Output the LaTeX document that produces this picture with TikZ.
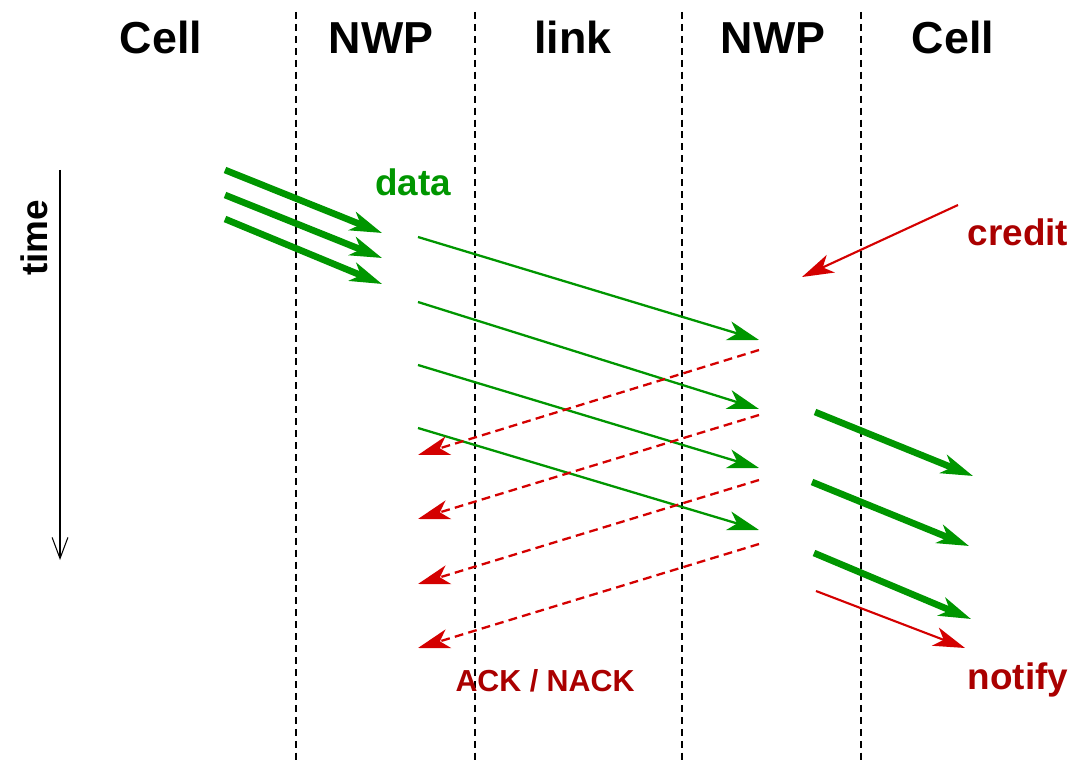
\documentclass[tikz,border=0pt]{standalone}
\usepackage{fontspec}
\setmainfont{Liberation Sans}
\usetikzlibrary{arrows.meta,positioning}
\usepackage{xcolor}
\definecolor{FlitGreen}{HTML}{009600}
\definecolor{AckRed}{HTML}{D40000}
\definecolor{LabelRed}{HTML}{AA0000}

\begin{document}
\begin{tikzpicture}[x=0.02cm,y=-0.02cm,
  every node/.style={font=\fontsize{21}{25}\selectfont\bfseries},
  colhead/.style={anchor=base,font=\fontsize{25.5}{30}\selectfont\bfseries},
  colsep/.style={black,line width=0.8pt,dash pattern=on 4pt off 2.8pt},
  flittip/.style={-{Stealth[length=18pt,width=11pt,inset=5pt]}},
  burst/.style={flittip,FlitGreen,line width=3.8pt},
  flit/.style={flittip,FlitGreen,line width=1.3pt},
  ack/.style={flittip,AckRed,line width=1.3pt,dash pattern=on 5pt off 3pt},
  ctrl/.style={flittip,AckRed,line width=1.2pt}]
  \useasboundingbox (0,0) rectangle (1075,763);
  % columns
  \foreach \x in {296,475,682,861}{\draw[colsep] (\x,12)--(\x,763);}
  \node[colhead] (cellA) at (161,54) {Cell};
  \node[colhead] (nwpA) at (381,54) {NWP};
  \node[colhead] (link) at (573,54) {link};
  \node[colhead] (nwpB) at (773,54) {NWP};
  \node[colhead] (cellB) at (953,54) {Cell};
  % time axis
  \coordinate (t0) at (60,170);
  \coordinate (t1) at (60,560);
  \draw[line width=0.6pt,-{Straight Barb[length=12pt,width=9pt]}] (t0)--(t1);
  \node[rotate=90,anchor=base] (time) at (47,238) {time};
  % cell -> NWP
  \foreach \i/\ys/\ye in {1/170/233,2/195/258,3/219/284}{
    \coordinate (src\i) at (225,\ys); \coordinate (inq\i) at (382,\ye);
    \draw[burst] (src\i)--(inq\i);}
  \node[FlitGreen,anchor=base] (data) at (413,196) {data};
  % over the link
  \foreach \i/\ys/\ye in {1/237/340,2/302/409,3/365/468,4/428/530}{
    \coordinate (tx\i) at (418,\ys); \coordinate (rx\i) at (759,\ye);
    \draw[flit] (tx\i)--(rx\i);}
  \foreach \i/\ys/\ye in {1/350/455,2/415/519,3/480/584,4/544/648}{
    \coordinate (ackS\i) at (759,\ys); \coordinate (ackE\i) at (418,\ye);
    \draw[ack] (ackS\i)--(ackE\i);}
  \node[LabelRed,anchor=base,font=\fontsize{17.3}{20}\selectfont\bfseries] (acklbl) at (545,691) {ACK / NACK};
  % credit back to sender
  \coordinate (cr0) at (958,205);
  \coordinate (cr1) at (802,277);
  \draw[ctrl] (cr0)--(cr1);
  \node[LabelRed,anchor=base] (credit) at (1018,246) {credit};
  % NWP -> cell
  \foreach \i/\xs/\ys/\xe/\ye in {1/815/412/973/476,2/812/482/969/546,3/814/553/971/619}{
    \coordinate (outq\i) at (\xs,\ys); \coordinate (dst\i) at (\xe,\ye);
    \draw[burst] (outq\i)--(dst\i);}
  \coordinate (nt0) at (816,591);
  \coordinate (nt1) at (965,648);
  \draw[ctrl] (nt0)--(nt1);
  \node[LabelRed,anchor=base] (notify) at (1018,689) {notify};
\end{tikzpicture}
\end{document}
